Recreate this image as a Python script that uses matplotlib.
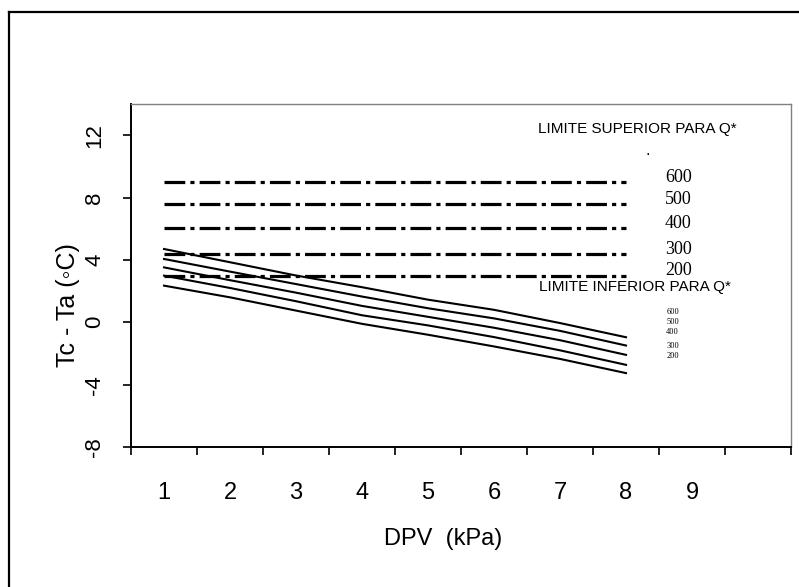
"""Tc - Ta em função do DPV, com limites superior e inferior para Q*."""

import matplotlib
matplotlib.use("Agg")
import matplotlib.pyplot as plt
from matplotlib.lines import Line2D

plt.rcParams["font.family"] = ["Liberation Sans", "DejaVu Sans"]

# dados
dpv = [1, 2, 3, 4, 5, 6, 7, 8]
x_tick_labels = ["1", "2", "3", "4", "5", "6", "7", "8", "9", ""]
q_levels = ["600", "500", "400", "300", "200"]

# limite superior (linhas traço-ponto), um valor por Q*
upper_limit = [9.0, 7.58, 6.06, 4.38, 2.99]

# limite inferior (linhas contínuas)
lower_600 = [4.70, 3.85, 3.00, 2.25, 1.45, 0.80, -0.05, -0.96]
lower_500 = [4.06, 3.25, 2.45, 1.65, 0.90, 0.25, -0.55, -1.49]
lower_400 = [3.52, 2.70, 1.90, 1.05, 0.35, -0.35, -1.15, -2.09]
lower_300 = [2.99, 2.20, 1.35, 0.45, -0.20, -0.95, -1.80, -2.73]
lower_200 = [2.35, 1.60, 0.75, -0.10, -0.80, -1.55, -2.35, -3.26]
lower_limit = [lower_600, lower_500, lower_400, lower_300, lower_200]

fig = plt.figure(figsize=(7.99, 5.87), dpi=100)
ax = fig.add_axes([0.164, 0.2385, 0.826, 0.5843])

for level in upper_limit:
    ax.plot([dpv[0], dpv[-1]], [level, level], color="black", linewidth=2.3,
            dashes=(6.5, 1.6, 1.3, 1.6), solid_capstyle="butt")

for series in lower_limit:
    ax.plot(dpv, series, color="black", linewidth=1.5)

ax.set_xlim(0.5, len(x_tick_labels) + 0.5)
ax.set_ylim(-8, 14)

# eixo x por categorias: marcas nas divisas, rótulos no centro
ax.set_xticks([i + 0.5 for i in range(len(x_tick_labels) + 1)])
ax.set_xticklabels([])
ax.set_xticks(range(1, len(x_tick_labels) + 1), minor=True)
ax.set_xticklabels(x_tick_labels, minor=True, fontsize=17)
ax.tick_params(axis="x", which="major", direction="out", length=5.5, width=1.2)
ax.tick_params(axis="x", which="minor", length=0, pad=25)

ax.set_yticks([-8, -4, 0, 4, 8, 12])
ax.set_yticklabels(["-8", "-4", "0", "4", "8", "12"], rotation=90, va="center", fontsize=16)
ax.tick_params(axis="y", direction="out", length=5.5, width=1.2, pad=13)

for side in ("left", "bottom"):
    ax.spines[side].set_color("black")
    ax.spines[side].set_linewidth(1.4)
for side in ("top", "right"):
    ax.spines[side].set_color("#808080")
    ax.spines[side].set_linewidth(1.0)

fig.text(68 / 799, 1 - 305 / 587, "Tc - Ta (\u25e6C)", rotation=90,
         ha="center", va="center", fontsize=18)
fig.text(443 / 799, 1 - 539 / 587, "DPV  (kPa)", ha="center", va="center", fontsize=17)

ax.text(8.17, 12.4, "LIMITE SUPERIOR PARA Q*", ha="center", va="center", fontsize=11)
ax.text(8.33, 11.0, ".", ha="center", va="center", fontsize=12)
for label, level in zip(q_levels, upper_limit):
    ax.text(8.59, level + 0.3, label, ha="left", va="center", fontsize=13,
            family="Liberation Serif")

ax.text(8.13, 2.26, "LIMITE INFERIOR PARA Q*", ha="center", va="center", fontsize=11)
small_y = [0.66, 0.02, -0.62, -1.52, -2.16]
for label, y in zip(q_levels, small_y):
    ax.text(8.61, y, label, ha="left", va="center", fontsize=6, family="Liberation Serif")

# moldura externa (só esquerda e topo visíveis no recorte)
fig.add_artist(Line2D([9 / 799, 9 / 799], [0, 1 - 12 / 587], color="black", linewidth=1.6))
fig.add_artist(Line2D([9 / 799, 1], [1 - 12 / 587, 1 - 12 / 587], color="black", linewidth=1.6))

fig.savefig("out.png", dpi=100)
